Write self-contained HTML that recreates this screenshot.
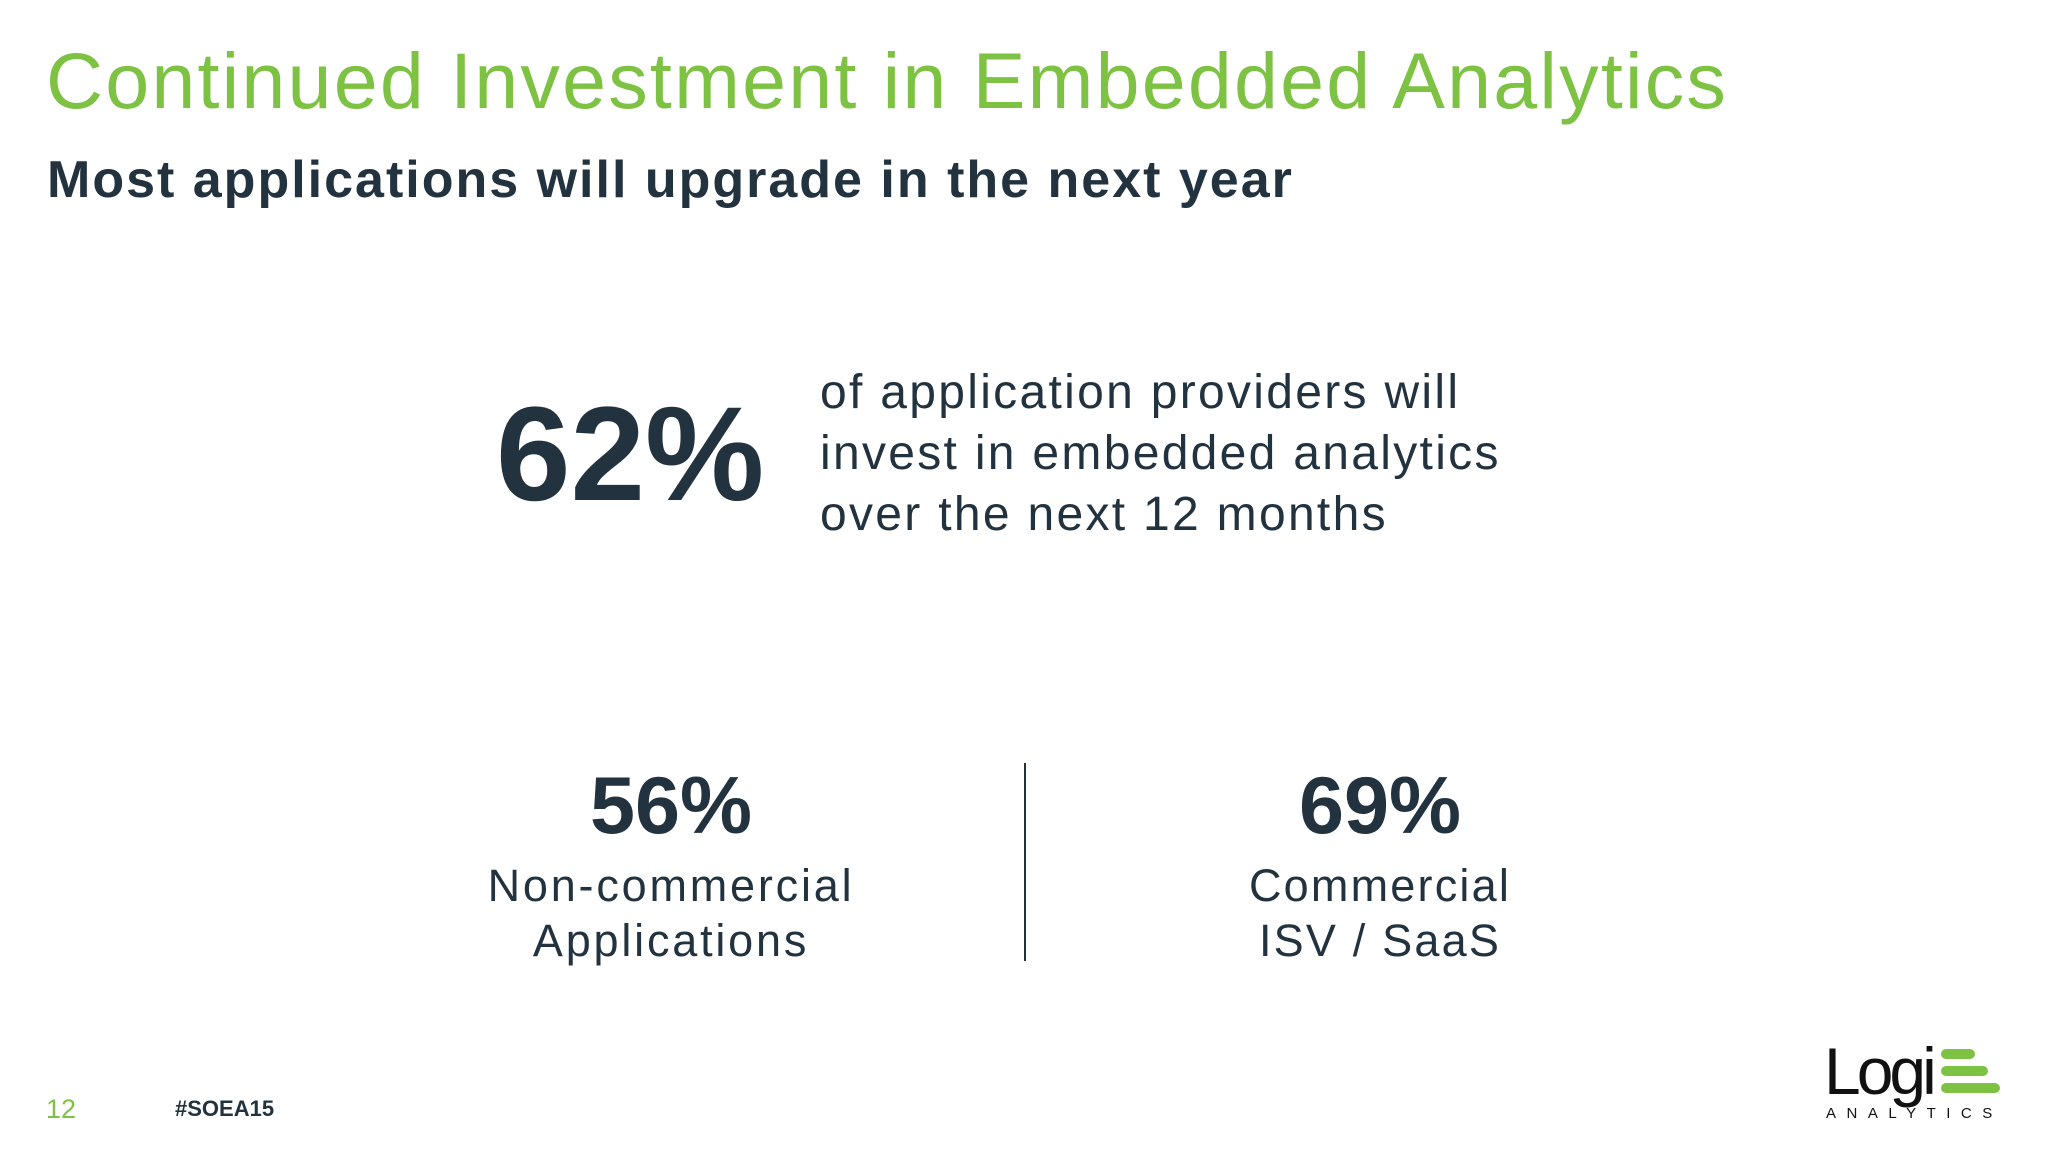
<!DOCTYPE html>
<html><head><meta charset="utf-8"><style>
body{margin:0;width:2048px;height:1152px;background:#fff;position:relative;overflow:hidden;font-family:"Liberation Sans",sans-serif;color:#22333f}
div,span{position:absolute;white-space:nowrap}
</style></head><body>
<div style="left:46px;top:36px;font-size:79px;color:#7dc242;line-height:90px;letter-spacing:2.2px">Continued Investment in Embedded Analytics</div>
<div style="left:47px;top:148px;font-size:52px;font-weight:bold;line-height:64px;letter-spacing:2px">Most applications will upgrade in the next year</div>
<div style="left:496px;top:380px;font-size:134px;font-weight:bold;line-height:150px">62%</div>
<div style="left:820px;top:362px;font-size:48px;line-height:61px;letter-spacing:2.3px">of application providers will<br>invest in embedded analytics<br>over the next 12 months</div>
<div style="left:471px;width:400px;text-align:center;top:758px;font-size:81px;font-weight:bold;line-height:96px">56%</div>
<div style="left:421px;width:500px;text-align:center;top:858px;font-size:45px;line-height:55px;letter-spacing:2.8px">Non-commercial<br>Applications</div>
<div style="left:1024px;top:763px;width:2px;height:198px;background:#22333f"></div>
<div style="left:1180px;width:400px;text-align:center;top:758px;font-size:81px;font-weight:bold;line-height:96px">69%</div>
<div style="left:1130px;width:500px;text-align:center;top:858px;font-size:45px;line-height:55px;letter-spacing:2.2px">Commercial<br>ISV / SaaS</div>
<div style="left:46px;top:1093px;font-size:27px;color:#7dc242;line-height:32px">12</div>
<div style="left:175px;top:1094px;font-size:22px;font-weight:bold;line-height:30px">#SOEA15</div>
<div style="left:1824px;top:1040px;width:180px;height:90px">
<span style="left:0;top:-4px;font-size:66px;color:#111;letter-spacing:-4px;line-height:70px">Logi</span>
<span style="left:117px;top:9px;width:34px;height:10px;border-radius:5px;background:#7dc242"></span>
<span style="left:117px;top:26px;width:47px;height:10px;border-radius:5px;background:#7dc242"></span>
<span style="left:117px;top:43px;width:59px;height:10px;border-radius:5px;background:#7dc242"></span>
<span style="left:2px;top:64px;font-size:15px;letter-spacing:10.5px;color:#111;line-height:20px">ANALYTICS</span>
</div>
</body></html>
